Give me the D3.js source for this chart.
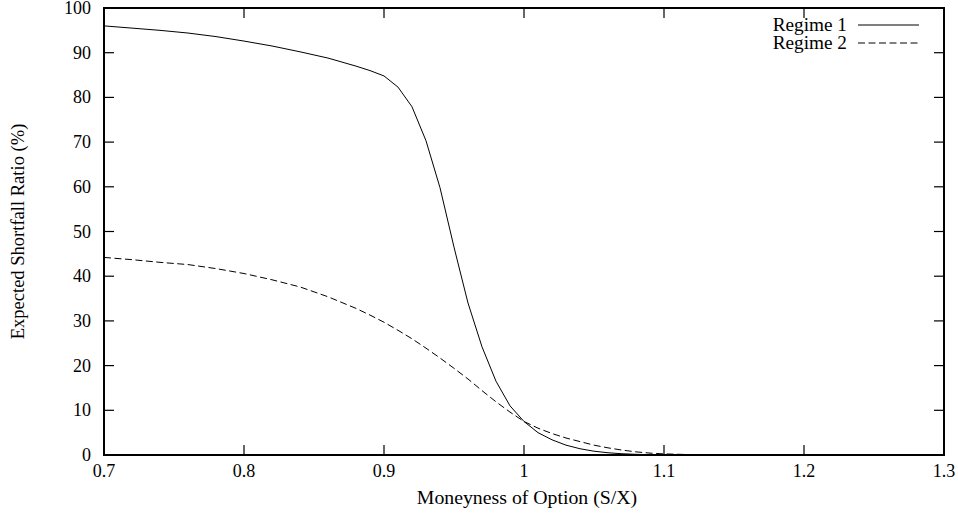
<!DOCTYPE html>
<html>
<head>
<meta charset="utf-8">
<script src="https://cdn.jsdelivr.net/npm/d3@7/dist/d3.min.js"></script>
<style>
  body { margin: 0; background: #fff; }
  svg { display: block; }
  text { font-family: "Liberation Serif", "DejaVu Serif", serif; fill: #000; }
</style>
</head>
<body>
<svg id="chart" width="958" height="517"></svg>
<script>
// ---- data ----
const moneyness = [0.70,0.72,0.74,0.76,0.78,0.80,0.82,0.84,0.86,0.88,0.89,0.90,0.91,0.92,0.93,0.94,0.95,0.96,0.97,0.98,0.99,1.00,1.01,1.02,1.03,1.04,1.05,1.06,1.07,1.08,1.09,1.10,1.12,1.14,1.16,1.20,1.25,1.30];
const regime1 = [96.0,95.5,95.0,94.4,93.6,92.6,91.5,90.2,88.8,87.0,86.0,84.8,82.3,77.9,70.3,59.8,46.5,34.0,24.2,16.5,11.0,7.5,5.0,3.4,2.2,1.4,0.85,0.5,0.28,0.15,0.08,0.04,0.01,0,0,0,0,0];
const regime2 = [44.2,43.7,43.1,42.6,41.7,40.6,39.2,37.6,35.4,32.8,31.3,29.7,27.9,26.0,23.9,21.7,19.4,17.0,14.4,11.9,9.6,7.5,6.0,4.8,3.8,3.0,2.2,1.6,1.1,0.7,0.42,0.25,0.08,0.02,0,0,0,0];
const xTicks = [0.7,0.8,0.9,1.0,1.1,1.2,1.3];
const yTicks = [0,10,20,30,40,50,60,70,80,90,100];
const seriesNames = ["Regime 1","Regime 2"];
const xTitle = "Moneyness of Option (S/X)";
const yTitle = "Expected Shortfall Ratio (%)";

// ---- layout ----
const svg = d3.select("#chart");
const L = 104, R = 944, T = 8, B = 455;
const x = d3.scaleLinear().domain([0.7,1.3]).range([L,R]);
const y = d3.scaleLinear().domain([0,100]).range([B,T]);
const tickLen = 10;
const fs = 18;

// ticks (inward, mirrored)
const tk = svg.append("g").attr("stroke","#000").attr("stroke-width",1.2);
xTicks.forEach(v => {
  tk.append("line").attr("x1",x(v)).attr("x2",x(v)).attr("y1",B).attr("y2",B-tickLen);
  tk.append("line").attr("x1",x(v)).attr("x2",x(v)).attr("y1",T).attr("y2",T+tickLen);
});
yTicks.forEach(v => {
  tk.append("line").attr("x1",L).attr("x2",L+tickLen).attr("y1",y(v)).attr("y2",y(v));
  tk.append("line").attr("x1",R).attr("x2",R-tickLen).attr("y1",y(v)).attr("y2",y(v));
});

// tick labels
svg.append("g").selectAll("text").data(xTicks).join("text")
  .attr("x", d => x(d)).attr("y", 477)
  .attr("text-anchor","middle").attr("font-size",fs)
  .text(d => d3.format("~g")(d));
svg.append("g").selectAll("text").data(yTicks).join("text")
  .attr("x", 91).attr("y", d => y(d) + 6)
  .attr("text-anchor","end").attr("font-size",fs)
  .text(d => d);

// axis titles
svg.append("text").attr("transform", `translate(${(L+R)/2 + 3},504) scale(1.1,1)`)
  .attr("text-anchor","middle").attr("font-size",fs).text(xTitle);
svg.append("text").attr("transform", `translate(24,${(T+B)/2}) rotate(-90) scale(1.03,1)`)
  .attr("text-anchor","middle").attr("font-size",fs).text(yTitle);

// lines
const line = d3.line().x((d,i) => x(moneyness[i])).y(d => y(d));
svg.append("path").datum(regime1).attr("d", line)
  .attr("fill","none").attr("stroke","#000").attr("stroke-width",1);
svg.append("path").datum(regime2).attr("d", line)
  .attr("fill","none").attr("stroke","#000").attr("stroke-width",1)
  .attr("stroke-dasharray","7,3.5");

// legend
const lg = svg.append("g");
const legY = [25, 43];
const dashes = [null, "7,3.5"];
seriesNames.forEach((n,i) => {
  lg.append("text").attr("transform", `translate(847,${legY[i] + 6}) scale(1.07,1)`)
    .attr("text-anchor","end").attr("font-size",fs).text(n);
  lg.append("line").attr("x1",858).attr("x2",919).attr("y1",legY[i]).attr("y2",legY[i])
    .attr("stroke","#000").attr("stroke-width",1)
    .attr("stroke-dasharray", dashes[i]);
});

// border
svg.append("rect").attr("x",L).attr("y",T).attr("width",R-L).attr("height",B-T)
  .attr("fill","none").attr("stroke","#000").attr("stroke-width",2);
</script>
</body>
</html>
